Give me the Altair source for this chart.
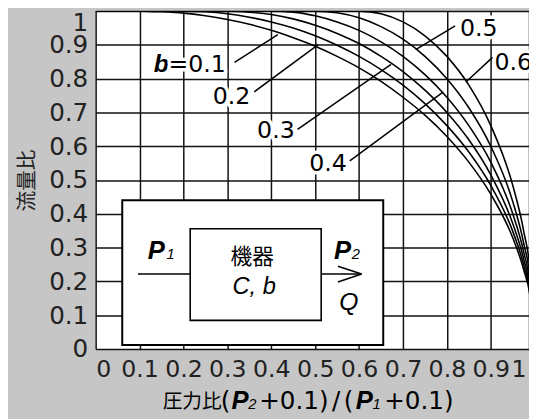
import altair as alt
import pandas as pd

# ---- data --------------------------------------------------------------
PRESSURE_RATIO = [0, 0.05, 0.1, 0.15, 0.2, 0.25, 0.3, 0.35, 0.4, 0.45, 0.5,
                  0.55, 0.6, 0.65, 0.7, 0.75, 0.8, 0.85, 0.9, 0.95, 0.975, 0.99, 1.0]
FLOW_B01 = [1, 1, 1, 0.998, 0.994, 0.986, 0.975, 0.961, 0.943, 0.921, 0.896,
            0.866, 0.832, 0.792, 0.745, 0.692, 0.629, 0.553, 0.458, 0.329, 0.234, 0.149, 0]
FLOW_B02 = [1, 1, 1, 1, 1, 0.998, 0.992, 0.982, 0.968, 0.950, 0.927,
            0.899, 0.866, 0.827, 0.781, 0.726, 0.661, 0.583, 0.484, 0.348, 0.248, 0.157, 0]
FLOW_B03 = [1, 1, 1, 1, 1, 1, 1, 0.997, 0.990, 0.977, 0.958,
            0.934, 0.904, 0.866, 0.821, 0.766, 0.700, 0.619, 0.515, 0.371, 0.265, 0.169, 0]
FLOW_B04 = [1, 1, 1, 1, 1, 1, 1, 1, 1, 0.997, 0.986,
            0.968, 0.943, 0.909, 0.866, 0.812, 0.745, 0.661, 0.553, 0.400, 0.286, 0.182, 0]
FLOW_B05 = [1, 1, 1, 1, 1, 1, 1, 1, 1, 1, 1,
            0.995, 0.980, 0.954, 0.917, 0.866, 0.800, 0.714, 0.600, 0.436, 0.312, 0.199, 0]
FLOW_B06 = [1, 1, 1, 1, 1, 1, 1, 1, 1, 1, 1,
            1, 1, 0.992, 0.968, 0.927, 0.866, 0.781, 0.661, 0.484, 0.348, 0.222, 0]
B_LABELS = ["0.1", "0.2", "0.3", "0.4", "0.5", "0.6"]
X_VISIBLE_MAX = 0.987   # right edge of the scanned figure (the "1" tick sits just past it)
X_TICKS = [0, 0.1, 0.2, 0.3, 0.4, 0.5, 0.6, 0.7, 0.8, 0.9, X_VISIBLE_MAX]
Y_TICKS = [0, 0.1, 0.2, 0.3, 0.4, 0.5, 0.6, 0.7, 0.8, 0.9, 1.0]

series = [FLOW_B01, FLOW_B02, FLOW_B03, FLOW_B04, FLOW_B05, FLOW_B06]
rows = []
for b, vals in zip(B_LABELS, series):
    for x, q in zip(PRESSURE_RATIO, vals):
        rows.append({"b": b, "x": x, "q": q})
df = pd.DataFrame(rows)

NUM = "DejaVu Sans"
LAT = "Liberation Sans"
CJK = "Noto Sans CJK JP"
INK = "#111111"

xaxis = alt.Axis(
    values=X_TICKS, title=None, grid=True, gridColor=INK, gridWidth=1.5,
    ticks=False, domain=False, labelFont=NUM, labelFontSize=24, labelColor="#222",
    labelPadding=9, labelOverlap=False,
    labelExpr="datum.value == 0 ? '0' : datum.value > 0.95 ? '1' : format(datum.value, '.1f')",
    labelOffset={"condition": {"test": "datum.value > 0.95", "value": -3}, "value": 0},
)
yaxis = alt.Axis(
    values=Y_TICKS, title="流量比", titleFont=CJK, titleFontSize=21,
    titleFontWeight="normal", titleColor="#222", titlePadding=11,
    grid=True, gridColor=INK, gridWidth=1.5, ticks=False, domain=False,
    labelFont=NUM, labelFontSize=25, labelColor="#222", labelPadding=8,
    labelOverlap=False,
    labelExpr="datum.value == 0 ? '0' : datum.value >= 1 ? '1' : format(datum.value, '.1f')",
    labelBaseline={"condition": {"test": "datum.value >= 1", "value": "top"}, "value": "middle"},
)

lines = alt.Chart(df).mark_line(
    color="black", strokeWidth=1.6, interpolate="monotone", clip=True
).encode(
    x=alt.X("x:Q", scale=alt.Scale(domain=[0, X_VISIBLE_MAX], nice=False, zero=False), axis=xaxis),
    y=alt.Y("q:Q", scale=alt.Scale(domain=[0, 1], nice=False), axis=yaxis),
    detail="b:N",
)

one = pd.DataFrame({"t": [""]})


def text(s, x, y, size, font=NUM, style="normal", weight="normal", align="left", halo=False):
    d = pd.DataFrame({"t": [s]})
    layers = []
    if halo:
        layers.append(alt.Chart(d).mark_text(
            font=font, fontSize=size, fontStyle=style, fontWeight=weight, align=align,
            baseline="alphabetic", stroke="white", strokeWidth=7, fill="white",
            strokeJoin="round").encode(x=alt.value(x), y=alt.value(y), text="t:N"))
    layers.append(alt.Chart(d).mark_text(
        font=font, fontSize=size, fontStyle=style, fontWeight=weight, align=align,
        baseline="alphabetic", color="black").encode(x=alt.value(x), y=alt.value(y), text="t:N"))
    return layers


def seg(x1, y1, x2, y2, w=1.5):
    return alt.Chart(one).mark_rule(color="black", strokeWidth=w).encode(
        x=alt.value(x1), y=alt.value(y1), x2=alt.value(x2), y2=alt.value(y2))


def box(x1, y1, x2, y2, w):
    return alt.Chart(one).mark_rect(fill="white", stroke="black", strokeWidth=w).encode(
        x=alt.value(x1), y=alt.value(y1), x2=alt.value(x2), y2=alt.value(y2))


ann = []
# leader lines for curve labels
ann += [seg(141, 52, 185, 24), seg(161, 82, 226, 34), seg(205, 120, 300, 54),
        seg(258, 152, 353, 82), seg(365, 15, 325, 39), seg(403, 47, 376, 72)]
# curve labels
ann += text("b", 59, 62, 25, font=LAT, style="italic", weight="bold", halo=True)
ann += text("=0.1", 74, 62, 24, halo=True)
ann += text("0.2", 138, 94, 24, align="center", halo=True)
ann += text("0.3", 183, 129, 24, align="center", halo=True)
ann += text("0.4", 236, 162, 24, align="center", halo=True)
ann += text("0.5", 389, 25, 24, align="center", halo=True)
ann += text("0.6", 424, 60, 24, align="center", halo=True)

# inset diagram
ann += [box(27, 192, 292, 339, 2), box(96, 221, 229, 314, 1.6)]
ann += [seg(43, 267, 96, 267, 1.6), seg(229, 267, 270, 267, 1.6),
        seg(246, 259, 270, 267, 1.6), seg(246, 275, 270, 267, 1.6)]
ann += text("P", 53, 252, 26, font=LAT, style="italic", weight="bold")
ann += text("1", 72, 252, 15, font=LAT, style="italic")
ann += text("P", 242, 252, 26, font=LAT, style="italic", weight="bold")
ann += text("2", 260, 252, 15, font=LAT, style="italic")
ann += text("機器", 159, 257, 22, font=CJK, align="center")
ann += text("C, b", 161, 287, 24, font=LAT, style="italic", align="center")
ann += text("Q", 257, 303, 25, font=LAT, style="italic", align="center")

# x-axis title: 圧力比(P2+0.1)/(P1+0.1)
ann += text("圧力比", 68, 403, 20, font=CJK)
ann += text("(", 127, 404, 25)
ann += text("P", 138, 404, 26, font=LAT, style="italic", weight="bold")
ann += text("2", 155, 404, 15, font=LAT, style="italic")
ann += text("+0.1)", 166, 404, 25)
ann += text("/", 240, 404, 25)
ann += text("(", 252, 404, 25)
ann += text("P", 264, 404, 26, font=LAT, style="italic", weight="bold")
ann += text("1", 281, 404, 15, font=LAT, style="italic")
ann += text("+0.1)", 293, 404, 25)

chart = alt.layer(lines, *ann).properties(
    width=440, height=343,
    autosize=alt.AutoSizeParams(type="none"),
    padding={"left": 89, "top": 0, "right": 0, "bottom": 68},
    background="#c6c6c6",
).configure_view(fill="white", strokeWidth=0)

chart.save("out.html", embed_options={"renderer": "svg", "actions": False})
